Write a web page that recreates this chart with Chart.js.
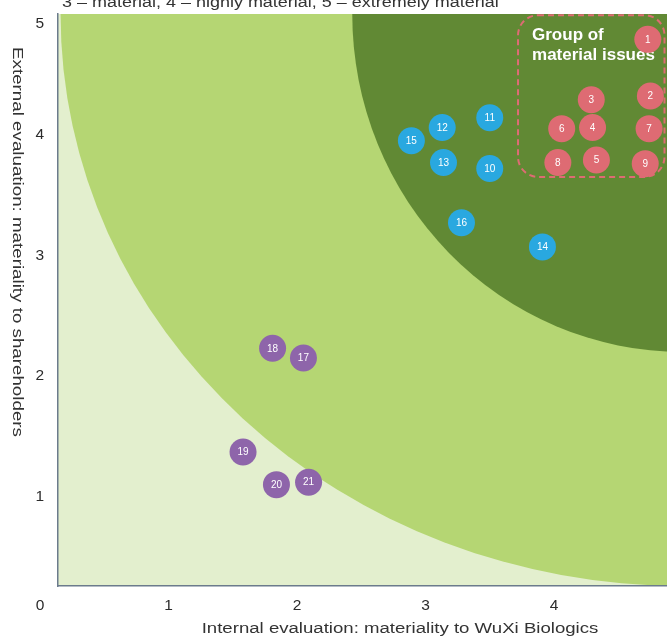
<!DOCTYPE html>
<html>
<head>
<meta charset="utf-8">
<script src="https://cdn.jsdelivr.net/npm/chart.js@4.4.1/dist/chart.umd.min.js"></script>
<style>
  html, body { margin: 0; padding: 0; overflow: hidden; background: #fff; }
</style>
</head>
<body>
<canvas id="matrix" width="700" height="639"></canvas>
<script>
// axis ticks
const xTicks = [0, 1, 2, 3, 4, 5];
const yTicks = [1, 2, 3, 4, 5];

// material issues (red)
const materialIds = [1, 2, 3, 4, 5, 6, 7, 8, 9];
const materialX = [4.73, 4.75, 4.29, 4.30, 4.33, 4.06, 4.74, 4.03, 4.71];
const materialY = [4.79, 4.32, 4.29, 4.06, 3.79, 4.05, 4.05, 3.77, 3.76];

// important issues (blue)
const importantIds = [10, 11, 12, 13, 14, 15, 16];
const importantX = [3.50, 3.50, 3.13, 3.14, 3.91, 2.89, 3.28];
const importantY = [3.72, 4.14, 4.06, 3.77, 3.07, 3.95, 3.27];

// other issues (purple)
const otherIds = [17, 18, 19, 20, 21];
const otherX = [2.05, 1.81, 1.58, 1.84, 2.09];
const otherY = [2.15, 2.23, 1.37, 1.10, 1.12];

const FONT = "'Liberation Sans', Arial, sans-serif";

function toPoints(xs, ys) {
    return xs.map((v, i) => ({ x: v, y: ys[i] }));
}

// background zones, centred on (5,5), radii in axis units
const zones = [
    { rx: 4.84, ry: 4.74, color: '#B5D673' },
    { rx: 2.57, ry: 2.80, color: '#618934' }
];
const groupBox = { x0: 3.72, x1: 4.86, y0: 3.65, y1: 4.99 };

const matrixPlugin = {
    id: 'matrix',
    beforeDraw(chart) {
        const { ctx, chartArea: a, scales: { x, y } } = chart;
        ctx.save();
        ctx.beginPath();
        ctx.rect(a.left, a.top, a.right - a.left, a.bottom - a.top);
        ctx.clip();
        ctx.fillStyle = '#E3EFCE';
        ctx.fillRect(a.left, a.top, a.right - a.left, a.bottom - a.top);
        const cx = x.getPixelForValue(5), cy = y.getPixelForValue(5);
        zones.forEach(z => {
            const rx = cx - x.getPixelForValue(5 - z.rx);
            const ry = y.getPixelForValue(5 - z.ry) - cy;
            ctx.beginPath();
            ctx.ellipse(cx, cy, rx, ry, 0, 0, Math.PI * 2);
            ctx.fillStyle = z.color;
            ctx.fill();
        });
        ctx.restore();

        // dashed group box
        const bx0 = x.getPixelForValue(groupBox.x0), bx1 = x.getPixelForValue(groupBox.x1);
        const by0 = y.getPixelForValue(groupBox.y1), by1 = y.getPixelForValue(groupBox.y0);
        ctx.save();
        ctx.setLineDash([6, 4]);
        ctx.lineWidth = 2;
        ctx.strokeStyle = '#DE6B73';
        ctx.beginPath();
        ctx.roundRect(bx0, by0, bx1 - bx0, by1 - by0, 20);
        ctx.stroke();
        ctx.restore();

        ctx.save();
        ctx.fillStyle = '#fff';
        ctx.font = 'bold 17px ' + FONT;
        ctx.textBaseline = 'middle';
        ctx.textAlign = 'left';
        ctx.fillText('Group of', bx0 + 14, by0 + 20);
        ctx.fillText('material issues', bx0 + 14, by0 + 40);
        ctx.restore();
    },
    afterDatasetsDraw(chart) {
        const ctx = chart.ctx;
        ctx.save();
        ctx.fillStyle = '#fff';
        ctx.font = '10px ' + FONT;
        ctx.textAlign = 'center';
        ctx.textBaseline = 'middle';
        chart.data.datasets.forEach((ds, i) => {
            chart.getDatasetMeta(i).data.forEach((pt, j) => {
                ctx.fillText(String(ds.ids[j]), pt.x, pt.y + 0.5);
            });
        });
        ctx.restore();
    },
    afterDraw(chart) {
        const { ctx } = chart;
        ctx.save();
        ctx.fillStyle = '#333';
        ctx.font = '15.5px ' + FONT;
        ctx.textBaseline = 'alphabetic';

        // cut-off legend line at the top
        ctx.save();
        ctx.translate(62, 7);
        ctx.scale(1.16, 1);
        ctx.textAlign = 'left';
        ctx.fillText('3 \u2013 material, 4 \u2013 highly material, 5 \u2013 extremely material', 0, 0);
        ctx.restore();

        ctx.textBaseline = 'middle';
        ctx.textAlign = 'center';
        // x axis title
        ctx.save();
        ctx.translate(400, 629);
        ctx.scale(1.2, 1);
        ctx.fillText('Internal evaluation: materiality to WuXi Biologics', 0, 0);
        ctx.restore();

        // y axis title, reading top to bottom
        ctx.save();
        ctx.translate(17, 242);
        ctx.rotate(Math.PI / 2);
        ctx.scale(1.21, 1);
        ctx.fillText('External evaluation: materiality to shareholders', 0, 0);
        ctx.restore();
        ctx.restore();
    }
};

new Chart(document.getElementById('matrix').getContext('2d'), {
    type: 'scatter',
    data: {
        datasets: [
            { ids: materialIds, data: toPoints(materialX, materialY), backgroundColor: '#DE6B73' },
            { ids: importantIds, data: toPoints(importantX, importantY), backgroundColor: '#29A8E0' },
            { ids: otherIds, data: toPoints(otherX, otherY), backgroundColor: '#8E65AA' }
        ]
    },
    options: {
        responsive: false,
        devicePixelRatio: 1,
        animation: false,
        events: [],
        elements: {
            point: { radius: 13.5, hoverRadius: 13.5, borderWidth: 0 }
        },
        layout: { padding: { top: 14, right: 17.5, left: 0, bottom: 0 } },
        plugins: {
            legend: { display: false },
            tooltip: { enabled: false }
        },
        scales: {
            x: {
                type: 'linear',
                min: 0.14,
                max: 5,
                grid: { display: false, drawTicks: false },
                border: { display: true, color: '#6B7B8C', width: 1.5 },
                ticks: {
                    autoSkip: false, maxRotation: 0, padding: 10,
                    color: '#2b2b2b', font: { family: FONT, size: 15.5 }
                },
                afterBuildTicks: s => { s.ticks = xTicks.map(v => ({ value: v })); },
                afterFit: s => { s.height = 53; s.paddingLeft = 0; s.paddingRight = 0; }
            },
            y: {
                type: 'linear',
                min: 0.26,
                max: 5,
                grid: { display: false, drawTicks: false },
                border: { display: true, color: '#6B7B8C', width: 1.5 },
                ticks: {
                    autoSkip: false, padding: 14,
                    color: '#2b2b2b', font: { family: FONT, size: 15.5 },
                    // keep the top label inside the frame, as in the original
                    callback: v => v === 5 ? ['', '5'] : String(v)
                },
                afterBuildTicks: s => { s.ticks = yTicks.map(v => ({ value: v })); },
                afterFit: s => { s.width = 58; s.paddingTop = 0; s.paddingBottom = 0; }
            }
        }
    },
    plugins: [matrixPlugin]
});
</script>
</body>
</html>
